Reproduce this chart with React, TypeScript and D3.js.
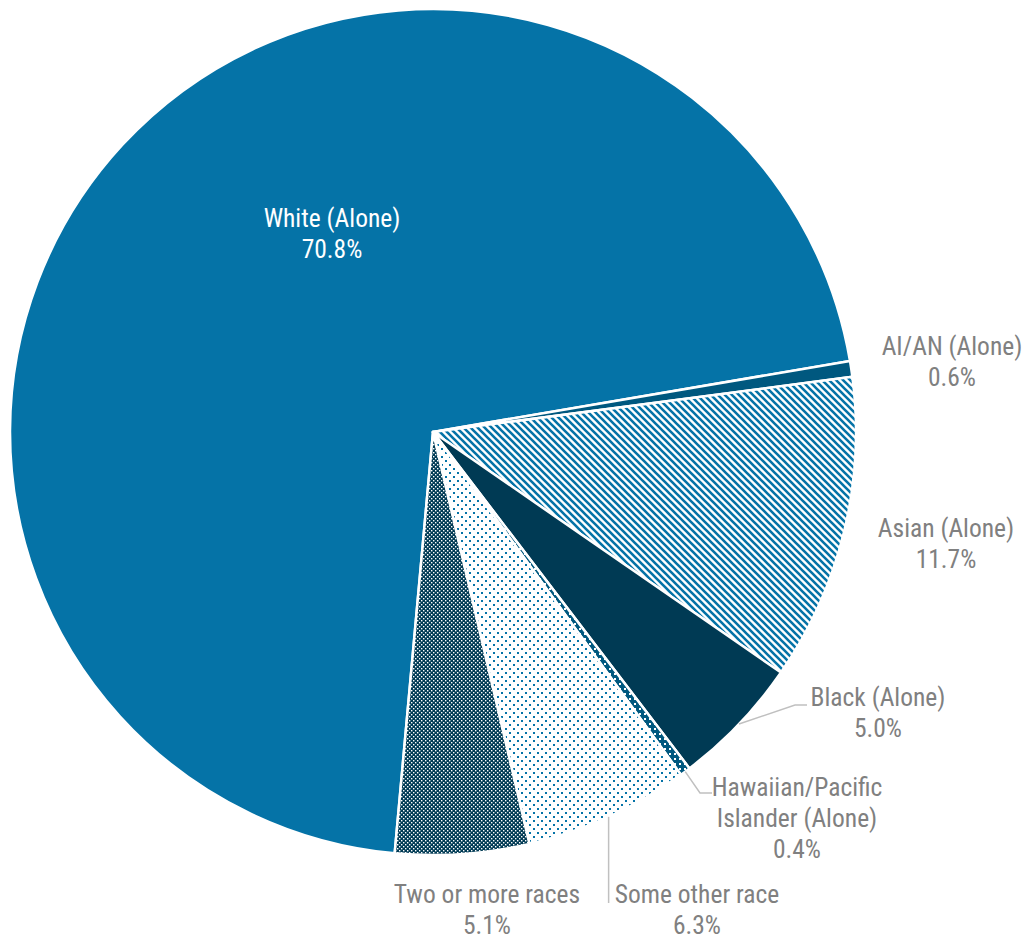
import { useEffect, useRef } from "react";
import * as d3 from "d3";

const categories = [
  "White (Alone)",
  "AI/AN (Alone)",
  "Asian (Alone)",
  "Black (Alone)",
  "Hawaiian/Pacific Islander (Alone)",
  "Some other race",
  "Two or more races",
];
const shares = [70.8, 0.6, 11.7, 5.0, 0.4, 6.3, 5.1];
const shareLabels = ["70.8%", "0.6%", "11.7%", "5.0%", "0.4%", "6.3%", "5.1%"];
const labelLines = [
  ["White (Alone)"],
  ["AI/AN (Alone)"],
  ["Asian (Alone)"],
  ["Black (Alone)"],
  ["Hawaiian/Pacific", "Islander (Alone)"],
  ["Some other race"],
  ["Two or more races"],
];

const W = 1025;
const H = 942;
const BLUE = "#0573a7";
const MID = "#00587f";
const NAVY = "#003a54";
const GREY = "#808080";
const LEADER = "#c0c0c0";

// label anchors (text centre x, first baseline y)
const labelPos = [
  { x: 332, y: 227, fill: "#fff" },
  { x: 952, y: 355, fill: GREY },
  { x: 946, y: 537, fill: GREY },
  { x: 878, y: 706, fill: GREY },
  { x: 797, y: 796, fill: GREY },
  { x: 697, y: 903, fill: GREY },
  { x: 487, y: 903, fill: GREY },
];

export default function App() {
  const svgRef = useRef<SVGSVGElement>(null);

  useEffect(() => {
    if (!svgRef.current) return;
    const svg = d3.select(svgRef.current);
    svg.selectAll("*").remove();

    const cx = 433;
    const cy = 432;
    const r = 423;
    const deg = Math.PI / 180;

    // Patterns
    const defs = svg.append("defs");

    // downward diagonal stripes ("\")
    const sp = 7;
    const stripes = defs
      .append("pattern")
      .attr("id", "stripes")
      .attr("patternUnits", "userSpaceOnUse")
      .attr("width", sp)
      .attr("height", sp);
    stripes.append("rect").attr("width", sp).attr("height", sp).attr("fill", "#fff");
    stripes
      .append("path")
      .attr("d", `M-1,${sp - 1} l2,2 M0,0 l${sp},${sp} M${sp - 1},-1 l2,2`)
      .attr("stroke", BLUE)
      .attr("stroke-width", 2.6);

    const dots = defs
      .append("pattern")
      .attr("id", "dots")
      .attr("patternUnits", "userSpaceOnUse")
      .attr("width", 8)
      .attr("height", 8);
    dots.append("rect").attr("width", 8).attr("height", 8).attr("fill", "#fff");
    dots.append("rect").attr("x", 0).attr("y", 0).attr("width", 2).attr("height", 2).attr("fill", BLUE);
    dots.append("rect").attr("x", 4).attr("y", 4).attr("width", 2).attr("height", 2).attr("fill", BLUE);

    const checker = defs
      .append("pattern")
      .attr("id", "checker")
      .attr("patternUnits", "userSpaceOnUse")
      .attr("width", 4)
      .attr("height", 4);
    checker.append("rect").attr("width", 4).attr("height", 4).attr("fill", NAVY);
    checker.append("rect").attr("x", 0).attr("y", 0).attr("width", 1.4).attr("height", 1.4).attr("fill", "#fff");
    checker.append("rect").attr("x", 2).attr("y", 2).attr("width", 1.4).attr("height", 1.4).attr("fill", "#fff");

    const hdots = defs
      .append("pattern")
      .attr("id", "hdots")
      .attr("patternUnits", "userSpaceOnUse")
      .attr("width", 5)
      .attr("height", 5);
    hdots.append("rect").attr("width", 5).attr("height", 5).attr("fill", MID);
    hdots.append("rect").attr("x", 1).attr("y", 1).attr("width", 2).attr("height", 2).attr("fill", "#fff");

    const fills = [BLUE, MID, "url(#stripes)", NAVY, "url(#hdots)", "url(#dots)", "url(#checker)"];

    const start = 185.2 * deg;
    const pie = d3
      .pie<number>()
      .sort(null)
      .value((d) => d)
      .startAngle(start)
      .endAngle(start + 2 * Math.PI);
    const arcs = pie(shares);
    const arc = d3.arc<d3.PieArcDatum<number>>().innerRadius(0).outerRadius(r);

    const g = svg.append("g").attr("transform", `translate(${cx},${cy})`);
    g.selectAll("path")
      .data(arcs)
      .join("path")
      .attr("d", arc)
      .attr("fill", (_, i) => fills[i])
      .attr("stroke", "#fff")
      .attr("stroke-width", 2.5)
      .attr("stroke-linejoin", "round");

    // Leader lines for small bottom-right slices
    const edge = (i: number) => {
      const a = (arcs[i].startAngle + arcs[i].endAngle) / 2;
      return [cx + r * Math.sin(a), cy - r * Math.cos(a)];
    };
    const leaders: [number, [number, number][]][] = [
      [3, [[795, 705], [807, 705]]],
      [4, [[700, 793], [712, 793]]],
      [5, [[0, 903]]],
    ];
    leaders.forEach(([i, pts]) => {
      const p0 = edge(i);
      const all = [p0, ...pts.map(([x, y]) => [x === 0 ? p0[0] : x, y])];
      svg
        .append("path")
        .attr("d", d3.line()(all as [number, number][]))
        .attr("fill", "none")
        .attr("stroke", LEADER)
        .attr("stroke-width", 1.5);
    });

    // Labels
    categories.forEach((_, i) => {
      const lp = labelPos[i];
      const lines = [...labelLines[i], shareLabels[i]];
      const t = svg
        .append("text")
        .attr("text-anchor", "middle")
        .attr("fill", lp.fill)
        .style("font-family", "'Liberation Sans Narrow', 'Arial Narrow', 'Roboto Condensed', sans-serif")
        .style("font-size", "25.5px");
      lines.forEach((ln, j) => {
        t.append("tspan").attr("x", lp.x).attr("y", lp.y + j * 31).text(ln);
      });
    });
  }, []);

  return (
    <svg
      ref={svgRef}
      width={W}
      height={H}
      style={{ position: "absolute", left: 0, top: 0, background: "#fff" }}
    />
  );
}
